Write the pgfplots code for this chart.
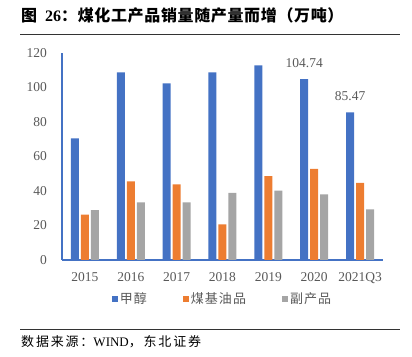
\documentclass[border=0pt]{standalone}
\usepackage{pgfplots}
\pgfplotsset{compat=1.18}
\usepackage{fontspec}
\setmainfont{Liberation Serif}
\newfontfamily\cjk{Noto Sans CJK SC}
\newfontfamily\cjkt[LetterSpace=4]{Noto Sans CJK SC}
\newfontfamily\cjks[LetterSpace=14]{Noto Sans CJK SC}
\newfontfamily\cjkl[LetterSpace=8]{Noto Sans CJK SC}
\definecolor{cblue}{HTML}{4472C4}
\definecolor{corange}{HTML}{ED7D31}
\definecolor{cgray}{HTML}{A5A5A5}
\definecolor{tgray}{HTML}{595959}
\begin{document}
\begin{tikzpicture}[x=1pt,y=1pt]
\path (0,0) rectangle (412,356);
% title
\node[anchor=west,inner sep=0pt] at (21,341) {\fontsize{16}{18}\selectfont\bfseries{\cjkt\bfseries 图}\ \ 26{\cjkt\bfseries ：煤化工产品销量随产量而增（万吨）}};
\draw[line width=0.8pt,black!80] (20,322) -- (400,322);
\draw[line width=0.6pt,black!80] (20,27) -- (400,27);
\node[anchor=west,inner sep=0pt] at (21,14) {\fontsize{13}{15}\selectfont{\cjks 数据来源：}WIND{\cjks ，东北证券}};
\begin{axis}[
  at={(62pt,96pt)}, anchor=south west,
  scale only axis, width=321pt, height=207.3pt,
  xmin=-0.5, xmax=6.5, ymin=0, ymax=120,
  ybar=2pt, bar width=8pt,
  axis lines*=left,
  axis line style={cblue, line width=1.1pt},
  major tick length=0pt,
  xtick=data,
  xticklabels={2015,2016,2017,2018,2019,2020,2021Q3},
  ytick={0,20,...,120},
  tick label style={font=\fontsize{13.5}{15}\selectfont, text=tgray},
  /pgf/number format/assume math mode=true,
  yticklabel style={inner sep=0pt, xshift=-15pt},
  xticklabel style={inner sep=0pt, yshift=-12.5pt},
  legend columns=3,
  legend style={draw=none, fill=none, at={(0.5,-0.188)}, anchor=center,
     font=\fontsize{13}{15}\selectfont\cjkl, text=tgray,
     /tikz/every even column/.append style={column sep=34pt}},
  legend image code/.code={\fill[#1] (0pt,-3pt) rectangle (6pt,3pt);},
]
\addplot[fill=cblue, draw=none,
  point meta=explicit symbolic,
  nodes near coords,
  every node near coord/.append style={font=\fontsize{13.5}{15}\selectfont, text=tgray, yshift=8pt}]
  coordinates {(0,70.4) [] (1,108.6) [] (2,102.2) [] (3,108.6) [] (4,112.7) [] (5,104.74) [104.74] (6,85.47) [85.47]};
\addplot[fill=corange, draw=none]
  coordinates {(0,26.2) (1,45.5) (2,43.8) (3,20.6) (4,48.6) (5,52.7) (6,44.6)};
\addplot[fill=cgray, draw=none]
  coordinates {(0,28.9) (1,33.4) (2,33.4) (3,38.8) (4,40.1) (5,38.0) (6,29.3)};
\legend{甲醇,煤基油品,副产品}
\end{axis}
\end{tikzpicture}
\end{document}
